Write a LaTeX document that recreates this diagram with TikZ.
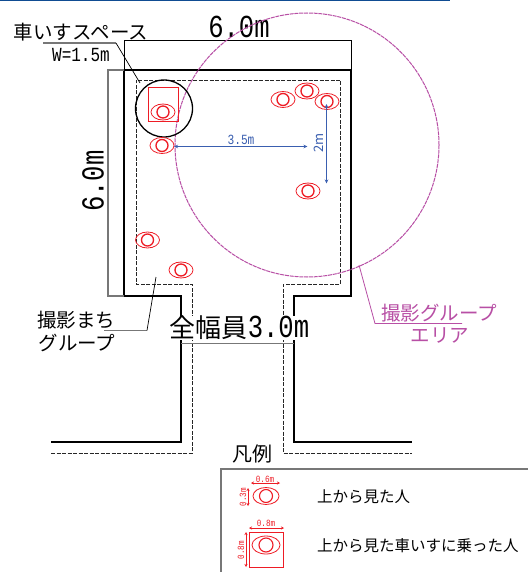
\documentclass[tikz,border=0pt]{standalone}
\usepackage{fontspec}
\usetikzlibrary{shapes.geometric,arrows.meta}
\setmainfont{Noto Sans CJK JP}
\newfontfamily\latinmono[FakeStretch=0.8]{Liberation Mono}
\definecolor{persred}{HTML}{EE1C25}
\definecolor{areamag}{HTML}{B84FA5}
\definecolor{dimblue}{HTML}{3A5FB0}
\definecolor{wallgray}{HTML}{777777}
\tikzset{
  wall/.style={line width=2pt,black},
  guide/.style={line width=0.9pt,black!85,dash pattern=on 4pt off 1.5pt},
  dimblack/.style={line width=1pt,black},
  dimgray/.style={line width=1.4pt,wallgray},
  leader/.style={line width=0.7pt,black},
  personoval/.style={ellipse,draw=persred,line width=0.8pt,minimum width=24pt,minimum height=16pt,inner sep=0pt},
  personhead/.style={circle,draw=persred,line width=1.3pt,minimum size=12pt,inner sep=0pt},
  bigdim/.style={font=\latinmono\fontsize{32}{32}\selectfont,inner sep=0pt},
  smalldim/.style={font=\latinmono\fontsize{9.5}{10}\selectfont,text=persred,inner sep=0pt},
  bluedim/.style={line width=1pt,dimblue,{Stealth[length=4pt,width=3.5pt]}-{Stealth[length=4pt,width=3.5pt]}},
  reddim/.style={line width=0.6pt,persred,{Stealth[length=3pt,width=3pt]}-{Stealth[length=3pt,width=3pt]}},
}
\newcommand{\personat}[3]{\node[personoval] (#1) at (#2,#3) {};\node[personhead] (#1h) at (#2,#3) {};}
\begin{document}
\begin{tikzpicture}[x=1pt,y=-1pt]
\useasboundingbox (0,0) rectangle (528,572);
\fill[fill=white] (0,0) rectangle (528,572);
\draw[line width=1.4pt,color={rgb,255:red,15;green,76;blue,146}] (0,0.5) -- (450,0.5);
% dashed guide
\draw[guide] (51,453) -- (192,453) -- (192,284) -- (136,284) -- (136,80) -- (340,80) -- (340,284) -- (283,284) -- (283,453) -- (412,453);
% walls
\draw[wall] (51,442) -- (181,442) -- (181,296) -- (124,296) -- (124,70) -- (351,70) -- (351,296) -- (294,296) -- (294,442) -- (412,442);
% dimensions
\coordinate (dtl) at (124,41); \coordinate (dtr) at (351,41);
\coordinate (wtl) at (124,70); \coordinate (wtr) at (351,70);
\coordinate (dlt) at (108,70); \coordinate (dlb) at (108,296);
\coordinate (wbl) at (124,296);
\coordinate (dwl) at (181,343.5); \coordinate (dwr) at (294,343.5);
\draw[dimblack] (wtl) -- (dtl) -- (dtr) -- (wtr);
\draw[dimgray] (wtl) -- (dlt) -- (dlb) -- (wbl);
\node[bigdim] (six) at (239,27) {6.0m};
\node[bigdim,rotate=90] (sixv) at (93,181) {6.0m};
\node[inner sep=0pt,fill=white,font=\fontsize{26}{28}\selectfont] (width) at (239.5,328) {全幅員{\latinmono\fontsize{32}{32}\selectfont 3.0m}};
\draw[dimgray] (dwl) -- (dwr);
% area
\node[circle,draw=areamag,line width=1pt,dash pattern=on 4pt off 0.8pt,minimum size=264pt,inner sep=0pt] (area) at (307,145) {};
% wheelchair space
\node[circle,draw=black,line width=1.3pt,minimum size=57pt,inner sep=0pt] (space) at (164,108.5) {};
\node[draw=persred,line width=0.9pt,minimum width=30pt,minimum height=34pt,inner sep=0pt] (chair) at (163,104) {};
\personat{pa}{163}{112}
\personat{pb}{162}{145.5}
\personat{pc}{283}{99.5}
\personat{pd}{307}{91}
\personat{pe}{327}{101.5}
\personat{pf}{308}{191}
\personat{pg}{147.5}{240}
\personat{ph}{181}{270}
% blue dims
\coordinate (bl) at (174,146.5); \coordinate (br) at (307.5,146.5);
\coordinate (vt) at (326.5,104); \coordinate (vb) at (326.5,183.5);
\draw[bluedim] (bl) -- (br);
\draw[bluedim] (vt) -- (vb);
\node[font=\latinmono\fontsize{14}{14}\selectfont,text=dimblue,inner sep=0pt] (l35) at (241,139.5) {3.5m};
\node[font=\fontsize{13}{13}\selectfont,text=dimblue,inner sep=0pt,rotate=90] (l2) at (319,143) {2m};
% labels
\node[inner sep=0pt,font=\fontsize{19.5}{20}\selectfont] (wc) at (81,32) {車いすスペース};
\node[font=\latinmono\fontsize{20}{20}\selectfont,inner sep=0pt] (w15) at (81,55) {W=1.5m};
\coordinate (wcu) at (43,43); \coordinate (wcm) at (116,43); \coordinate (wce) at (140,83);
\draw[dimgray] (wcu) -- (wcm);
\draw[leader] (wcm) -- (wce);
\node[font=\fontsize{19.5}{20}\selectfont,inner sep=0pt] (wa) at (76,320) {撮影まち};
\node[font=\fontsize{19.5}{20}\selectfont,inner sep=0pt] (wb) at (77,343) {グループ};
\coordinate (gu) at (104,330.5); \coordinate (gm) at (147,330.5); \coordinate (ge) at (156,277);
\draw[dimgray] (gu) -- (gm);
\draw[leader] (gm) -- (ge);
\node[font=\fontsize{19.5}{20}\selectfont,text=areamag,inner sep=0pt] (aa) at (439,313) {撮影グループ};
\node[font=\fontsize{19.5}{20}\selectfont,text=areamag,inner sep=0pt] (ab) at (440,335) {エリア};
\coordinate (au) at (462,323.5); \coordinate (am) at (375,323.5); \coordinate (ae) at (359,265);
\draw[line width=0.8pt,areamag] (au) -- (am) -- (ae);
% legend
\node[font=\fontsize{20}{20}\selectfont,inner sep=0pt] (leg) at (252.5,454) {凡例};
\coordinate (lb1) at (221,572); \coordinate (lb2) at (221,469); \coordinate (lb3) at (528,469);
\draw[line width=1.5pt,wallgray] (lb1) -- (lb2) -- (lb3);
\node[ellipse,draw=persred,line width=0.8pt,minimum width=26pt,minimum height=17pt,inner sep=0pt] (lp) at (266,496) {};
\node[circle,draw=persred,line width=1.1pt,minimum size=13pt,inner sep=0pt] (lph) at (266,496) {};
\coordinate (d1l) at (251,483); \coordinate (d1r) at (280,483);
\coordinate (d1t) at (248,488); \coordinate (d1b) at (248,506);
\draw[reddim] (d1l) -- (d1r);
\draw[reddim] (d1t) -- (d1b);
\node[smalldim] (t1) at (265,479) {0.6m};
\node[smalldim,rotate=90] (t2) at (243,497) {0.3m};
\node[draw=persred,line width=0.9pt,minimum width=34pt,minimum height=35pt,inner sep=0pt] (lc) at (266.5,549.5) {};
\node[ellipse,draw=persred,line width=0.8pt,minimum width=28pt,minimum height=18pt,inner sep=0pt] (lq) at (266,545) {};
\node[circle,draw=persred,line width=1.1pt,minimum size=14pt,inner sep=0pt] (lqh) at (266,545) {};
\coordinate (d2l) at (249,528); \coordinate (d2r) at (284,528);
\coordinate (d2t) at (246,532); \coordinate (d2b) at (246,567);
\draw[reddim] (d2l) -- (d2r);
\draw[reddim] (d2t) -- (d2b);
\node[smalldim] (t3) at (266,523) {0.8m};
\node[smalldim,rotate=90] (t4) at (241,550) {0.8m};
\node[font=\fontsize{15.5}{16}\selectfont,anchor=west,inner sep=0pt] (t5) at (317,497) {上から見た人};
\node[font=\fontsize{15.5}{16}\selectfont,anchor=west,inner sep=0pt] (t6) at (317,546) {上から見た車いすに乗った人};
\end{tikzpicture}
\end{document}
